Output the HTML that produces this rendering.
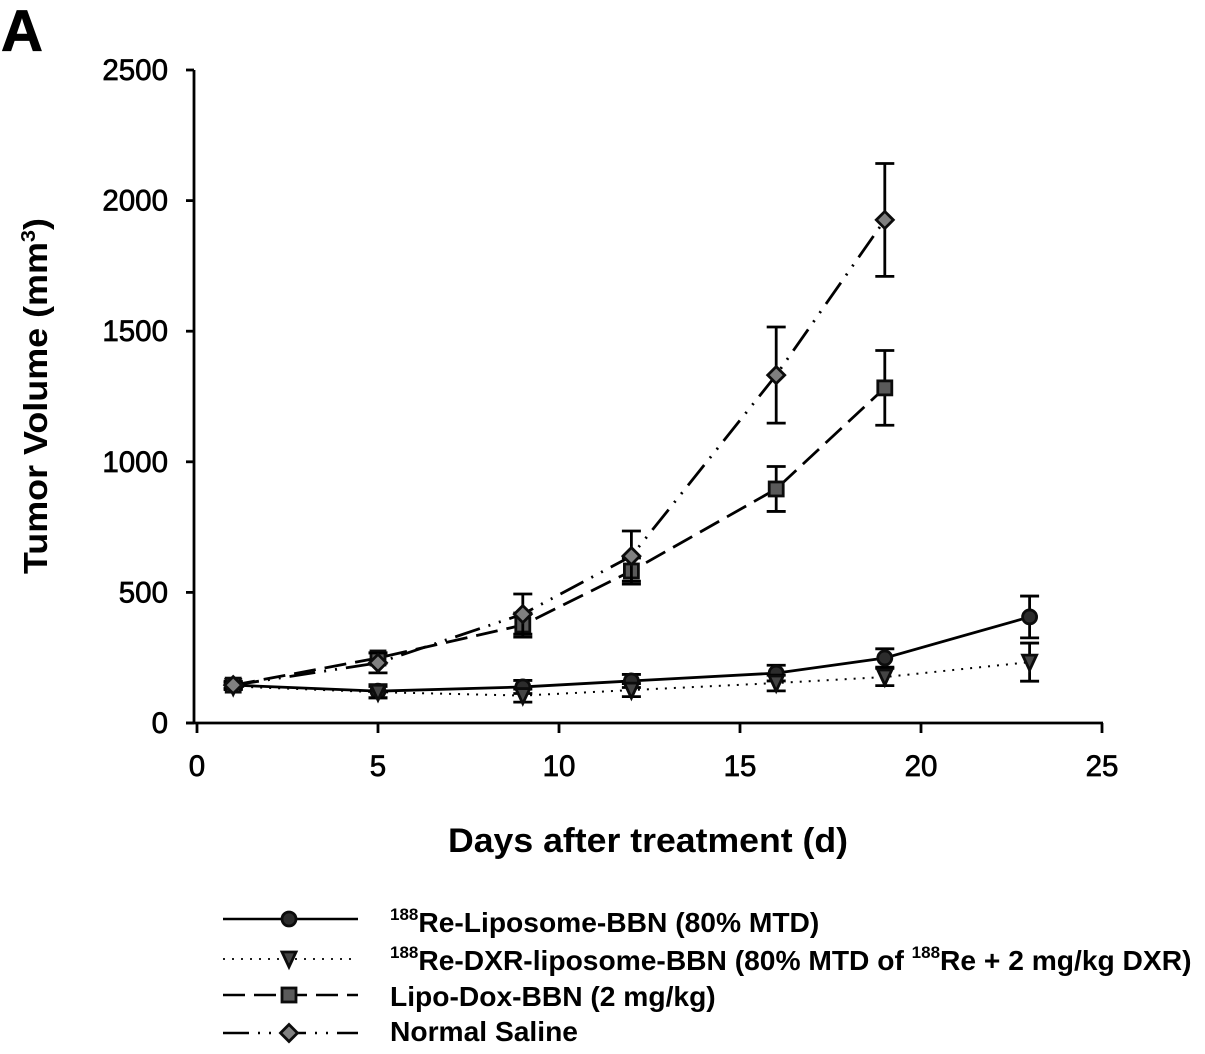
<!DOCTYPE html>
<html><head><meta charset="utf-8"><title>Tumor volume chart</title>
<style>
html,body{margin:0;padding:0;background:#fff;width:1205px;height:1054px;overflow:hidden}
svg{display:block}
text{font-family:"Liberation Sans",Arial,sans-serif;fill:#000}
</style></head>
<body>
<svg id="chart" xmlns="http://www.w3.org/2000/svg" width="1205" height="1054" viewBox="0 0 1205 1054">
<text x="1" y="51" font-size="58" font-weight="bold" stroke="#000" stroke-width="0.8">A</text>
<text transform="translate(47,574) rotate(-90)" font-size="33" font-weight="bold" textLength="356" lengthAdjust="spacingAndGlyphs">Tumor Volume (mm<tspan font-size="20" dy="-12">3</tspan><tspan dy="12">)</tspan></text>
<text x="448" y="852" font-size="34" font-weight="bold" textLength="400" lengthAdjust="spacingAndGlyphs">Days after treatment (d)</text>
<g font-weight="bold" font-size="28.2">
<text x="390" y="932"><tspan font-size="17" dy="-12">188</tspan><tspan dy="12">Re-Liposome-BBN (80% MTD)</tspan></text>
<text x="390" y="970"><tspan font-size="17" dy="-12">188</tspan><tspan dy="12">Re-DXR-liposome-BBN (80% MTD of </tspan><tspan font-size="17" dy="-12">188</tspan><tspan dy="12">Re + 2 mg/kg DXR)</tspan></text>
<text x="390" y="1006">Lipo-Dox-BBN (2 mg/kg)</text>
<text x="390" y="1041">Normal Saline</text>
</g>
</svg>
<script>
const days = [1, 5, 9, 12, 16, 19, 23];
const reLiposome = [145, 122, 138, 161, 191, 249, 406];
const reLiposomeErr = [15, 25, 25, 25, 30, 35, 80];
const reDxr = [140, 118, 105, 126, 153, 176, 233];
const reDxrErr = [12, 22, 25, 25, 30, 33, 73];
const lipoDox = [145, 249, 375, 582, 896, 1283];
const lipoDoxErr = [12, 20, 46, 50, 86, 143];
const saline = [145, 230, 417, 639, 1332, 1926];
const salineErr = [12, 38, 77, 96, 184, 216];
const xTicks = [0, 5, 10, 15, 20, 25];
const yTicks = [0, 500, 1000, 1500, 2000, 2500];

const NS = 'http://www.w3.org/2000/svg';
const svg = document.getElementById('chart');
const xScale = v => 197 + v * 36.2;
const yScale = v => 723 - v * 0.2612;

function mk(tag, attrs, parent) {
  const el = document.createElementNS(NS, tag);
  for (const k in attrs) el.setAttribute(k, attrs[k]);
  (parent || svg).appendChild(el);
  return el;
}

const axes = mk('g', {stroke: '#000', 'stroke-width': 2.8, fill: 'none'});


const yAxisLine = mk('line', {x1: 194, x2: 194, y1: yScale(2500), y2: 724}, axes);


const xAxisLine = mk('line', {x1: 186, x2: xScale(25) + 1, y1: 723, y2: 723}, axes);



xTicks.forEach(t => {
  const tick = mk('line', {x1: xScale(t), x2: xScale(t), y1: 723, y2: 733}, axes);
  
  
  const label = mk('text', {x: xScale(t), y: 776, 'text-anchor': 'middle', 'font-size': 29.5, stroke: '#000', 'stroke-width': 0.7});
  label.textContent = t;
  
  
});
yTicks.forEach(t => {
  const tick = mk('line', {x1: 186, x2: 194, y1: yScale(t), y2: yScale(t)}, axes);
  
  
  const label = mk('text', {x: 168, y: yScale(t) + 10, 'text-anchor': 'end', 'font-size': 29.5, stroke: '#000', 'stroke-width': 0.7});
  label.textContent = t;
  
  
});

function marker(kind, cx, cy, fill, parent) {
  const style = {fill: fill, stroke: '#0c0c0c', 'stroke-width': 2.8};
  if (kind === 'circle') return mk('circle', Object.assign({cx: cx, cy: cy, r: 7}, style), parent);
  if (kind === 'triangle') return mk('polygon', Object.assign({points: `${cx-7},${cy-7} ${cx+7},${cy-7} ${cx},${cy+8}`}, style), parent);
  if (kind === 'square') return mk('rect', Object.assign({x: cx-7, y: cy-7, width: 14, height: 14}, style), parent);
  return mk('polygon', Object.assign({points: `${cx},${cy-8.5} ${cx+8.5},${cy} ${cx},${cy+8.5} ${cx-8.5},${cy}`}, style), parent);
}

const seriesKinds = ['circle', 'triangle', 'square', 'diamond'];
const seriesNames = ['re-liposome', 're-dxr-liposome', 'lipo-dox', 'normal-saline'];
const seriesFills = ['#2c2c2c', '#444', '#5a5a5a', '#808080'];
const seriesDash = ['none', '2 7', '22 9', '26 9 2 9 2 9'];
const seriesVals = [reLiposome, reDxr, lipoDox, saline];
const seriesErrs = [reLiposomeErr, reDxrErr, lipoDoxErr, salineErr];

seriesVals.forEach((vals, i) => {
  const g = mk('g', {});
  
  
  const pts = vals.map((v, j) => xScale(days[j]) + ',' + yScale(v)).join(' ');
  const line = mk('polyline', {points: pts, fill: 'none', stroke: '#000', 'stroke-width': i === 1 ? 2 : 2.8, 'stroke-dasharray': seriesDash[i]}, g);
  
  
  vals.forEach((v, j) => {
    const x = xScale(days[j]);
    const top = yScale(v + seriesErrs[i][j]);
    const bot = yScale(v - seriesErrs[i][j]);
    const bar = mk('path', {d: `M${x-9.5} ${top}H${x+9.5}M${x} ${top}V${bot}M${x-9.5} ${bot}H${x+9.5}`, fill: 'none', stroke: '#000', 'stroke-width': 2.8}, g);
    
    
  });
  vals.forEach((v, j) => {
    const m = marker(seriesKinds[i], xScale(days[j]), yScale(v), seriesFills[i], g);
    
    
  });
});

const legendRowY = [919, 959, 995, 1033];
legendRowY.forEach((y, i) => {
  const g = mk('g', {});
  
  
  mk('line', {x1: 223, x2: 358, y1: y, y2: y, stroke: '#000', 'stroke-width': i === 1 ? 1.8 : 2.4, 'stroke-dasharray': seriesDash[i]}, g);
  marker(seriesKinds[i], 289, y, seriesFills[i], g);
});
</script>
</body></html>
